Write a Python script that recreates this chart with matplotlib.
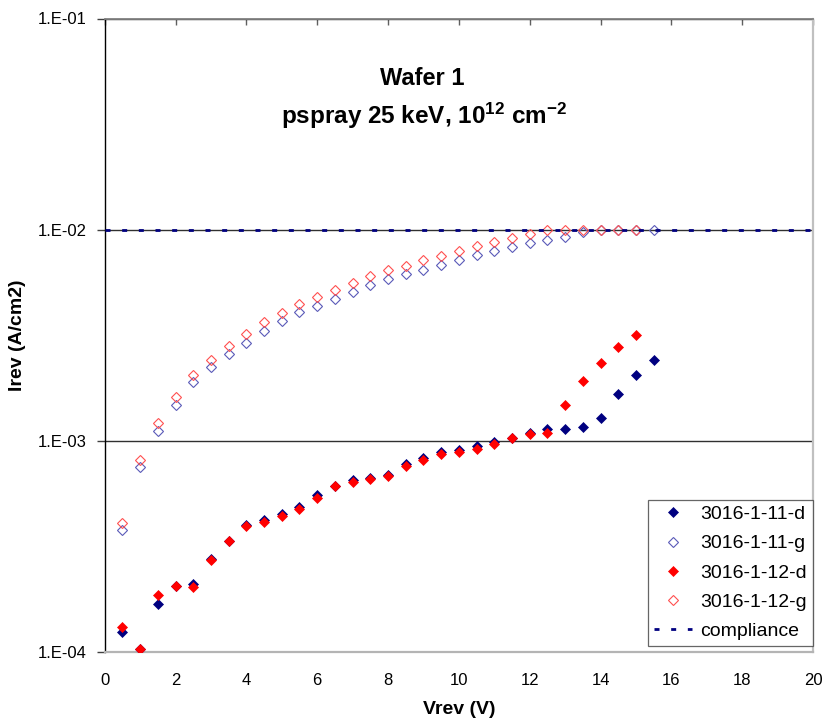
import matplotlib
matplotlib.use("Agg")
import matplotlib.pyplot as plt

plt.rcParams['font.family'] = ['Liberation Sans', 'DejaVu Sans']
plt.rcParams['mathtext.fontset'] = 'custom'
plt.rcParams['mathtext.rm'] = 'Liberation Sans:bold'
plt.rcParams['mathtext.it'] = 'Liberation Sans:bold'
plt.rcParams['mathtext.bf'] = 'Liberation Sans:bold'

# ---------------- data ----------------
v_11 = [0.5, 1.0, 1.5, 2.0, 2.5, 3.0, 3.5, 4.0, 4.5, 5.0, 5.5, 6.0, 6.5, 7.0, 7.5, 8.0,
        8.5, 9.0, 9.5, 10.0, 10.5, 11.0, 11.5, 12.0, 12.5, 13.0, 13.5, 14.0, 14.5, 15.0, 15.5]
v_12 = [0.5, 1.0, 1.5, 2.0, 2.5, 3.0, 3.5, 4.0, 4.5, 5.0, 5.5, 6.0, 6.5, 7.0, 7.5, 8.0,
        8.5, 9.0, 9.5, 10.0, 10.5, 11.0, 11.5, 12.0, 12.5, 13.0, 13.5, 14.0, 14.5, 15.0]

i_11_d = [1.24e-4, 1.03e-4, 1.69e-4, 2.05e-4, 2.09e-4, 2.77e-4, 3.36e-4, 3.99e-4, 4.21e-4,
          4.49e-4, 4.86e-4, 5.52e-4, 6.09e-4, 6.55e-4, 6.70e-4, 6.92e-4, 7.74e-4, 8.29e-4,
          8.89e-4, 9.08e-4, 9.42e-4, 9.87e-4, 1.035e-3, 1.094e-3, 1.138e-3, 1.143e-3,
          1.162e-3, 1.282e-3, 1.673e-3, 2.042e-3, 2.424e-3]
i_11_g = [3.77e-4, 7.52e-4, 1.113e-3, 1.477e-3, 1.892e-3, 2.236e-3, 2.568e-3, 2.904e-3,
          3.31e-3, 3.69e-3, 4.06e-3, 4.37e-3, 4.69e-3, 5.08e-3, 5.47e-3, 5.83e-3, 6.14e-3,
          6.47e-3, 6.83e-3, 7.18e-3, 7.58e-3, 7.92e-3, 8.27e-3, 8.64e-3, 8.97e-3, 9.23e-3,
          9.71e-3, 1.0e-2, 1.0e-2, 1.0e-2, 1.0e-2]
i_12_d = [1.31e-4, 1.03e-4, 1.87e-4, 2.05e-4, 2.03e-4, 2.72e-4, 3.36e-4, 3.97e-4, 4.11e-4,
          4.39e-4, 4.78e-4, 5.38e-4, 6.09e-4, 6.41e-4, 6.58e-4, 6.81e-4, 7.60e-4, 8.15e-4,
          8.70e-4, 8.85e-4, 9.14e-4, 9.63e-4, 1.031e-3, 1.074e-3, 1.094e-3, 1.483e-3,
          1.919e-3, 2.344e-3, 2.78e-3, 3.18e-3]
i_12_g = [4.10e-4, 8.15e-4, 1.21e-3, 1.61e-3, 2.05e-3, 2.42e-3, 2.80e-3, 3.19e-3, 3.64e-3,
          4.03e-3, 4.43e-3, 4.80e-3, 5.20e-3, 5.59e-3, 6.01e-3, 6.42e-3, 6.75e-3, 7.16e-3,
          7.53e-3, 7.92e-3, 8.34e-3, 8.71e-3, 9.09e-3, 9.57e-3, 9.92e-3, 1.0e-2, 1.0e-2,
          1.0e-2, 1.0e-2, 1.0e-2]
v_compliance = [0, 20]
i_compliance = [1e-2, 1e-2]

series_labels = ['3016-1-11-d', '3016-1-11-g', '3016-1-12-d', '3016-1-12-g', 'compliance']
y_ticks = [1e-4, 1e-3, 1e-2, 1e-1]
y_ticklabels = ['1.E-04', '1.E-03', '1.E-02', '1.E-01']
x_ticks = [0, 2, 4, 6, 8, 10, 12, 14, 16, 18, 20]

# ---------------- figure ----------------
fig = plt.figure(figsize=(8.34, 7.26), dpi=100)
W, H = 834, 726
L, R, T, B = 104.7, 813, 18.5, 652
ax = fig.add_axes([L / W, 1 - B / H, (R - L) / W, (B - T) / H])

navy = '#000080'
red = '#ff0000'

ax.plot(v_11, i_11_d, ls='none', marker='D', ms=5.4, mfc=navy, mec=navy, mew=0.5,
        label=series_labels[0], zorder=3)
ax.plot(v_11, i_11_g, ls='none', marker='D', ms=4.6, mfc='none', mec='#5a5ab8', mew=0.8,
        label=series_labels[1], zorder=3)
ax.plot(v_12, i_12_d, ls='none', marker='D', ms=5.4, mfc=red, mec=red, mew=0.5,
        label=series_labels[2], zorder=4)
ax.plot(v_12, i_12_g, ls='none', marker='D', ms=4.6, mfc='none', mec='#ff5050', mew=0.8,
        label=series_labels[3], zorder=4)
ax.plot(v_compliance, i_compliance, color=navy, lw=2.0, ls=(0, (1.8, 4.2)),
        dash_capstyle='butt', label=series_labels[4], zorder=5)

ax.set_yscale('log')
ax.set_ylim(1e-4, 1e-1)
ax.set_xlim(0, 20)
ax.set_yticks(y_ticks)
ax.set_yticklabels(y_ticklabels)
ax.yaxis.set_minor_locator(matplotlib.ticker.NullLocator())
ax.set_xticks(x_ticks)
ax.set_xticklabels([str(x) for x in x_ticks])

ax.tick_params(axis='y', direction='out', length=6, width=1, color='#404040',
               labelsize=12, pad=7)
ax.tick_params(axis='x', bottom=False, top=True, direction='in', length=4, width=1,
               color='#606060', labelsize=12, pad=15, labelbottom=True, labeltop=False)

ax.yaxis.grid(True, color='#303030', lw=1.0)
ax.set_axisbelow(True)

ax.spines['left'].set_color('black')
ax.spines['left'].set_linewidth(1.0)
ax.spines['top'].set_color('#808080')
ax.spines['top'].set_linewidth(1.3)
ax.spines['right'].set_color('#c0c0c0')
ax.spines['right'].set_linewidth(1.6)
ax.spines['bottom'].set_color('#b4b4b4')
ax.spines['bottom'].set_linewidth(1.6)

leg = ax.legend(loc='lower right', bbox_to_anchor=(1.0, 0.0095), fontsize=14,
                frameon=True, fancybox=False, edgecolor='#404040', borderaxespad=0,
                handlelength=1.95, handletextpad=0.45, borderpad=0.3, labelspacing=0.6)
leg.get_frame().set_linewidth(0.9)

fig.text(422 / W, 1 - 85 / H, 'Wafer 1', ha='center', va='baseline',
         fontsize=17, fontweight='bold')
fig.text(424 / W, 1 - 124 / H, r'pspray 25 keV, 10$^{12}$ cm$^{-2}$', ha='center',
         va='baseline', fontsize=17.5, fontweight='bold')

fig.text(18 / W, 1 - 335 / H, 'Irev (A/cm2)', rotation=90, ha='center', va='center',
         fontsize=14, fontweight='bold')
fig.text(459 / W, 1 - 710 / H, 'Vrev (V)', ha='center', va='center',
         fontsize=14, fontweight='bold')

fig.savefig('out.png', dpi=100, facecolor='white')
